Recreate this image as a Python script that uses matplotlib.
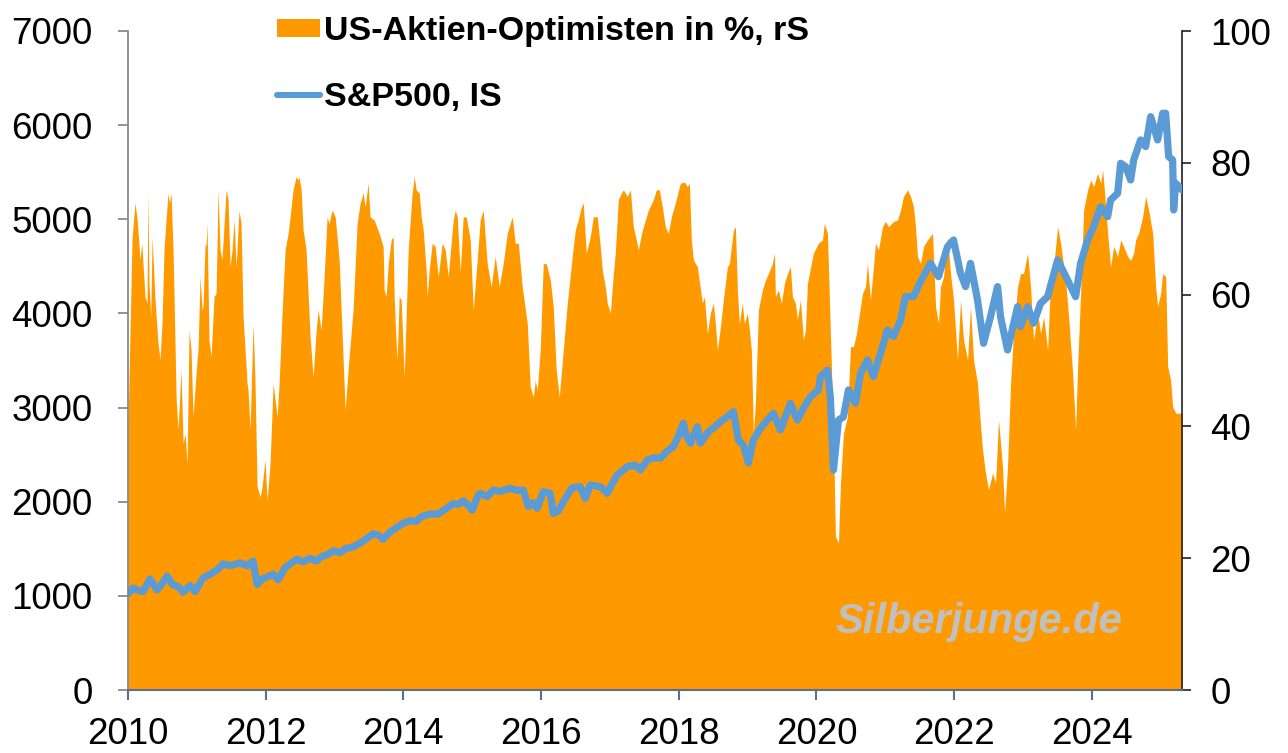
import matplotlib
matplotlib.use("Agg")
import matplotlib.pyplot as plt
from matplotlib.patches import Patch
from matplotlib.lines import Line2D

plt.rcParams['font.family'] = ['Liberation Sans', 'DejaVu Sans']

# US-Aktien-Optimisten in % (rechte Skala), Datum als Dezimaljahr
opt_years = [
    2010.00, 2010.058, 2010.10, 2010.13, 2010.174, 2010.20, 2010.247, 2010.276, 2010.29, 2010.305,
    2010.33, 2010.35, 2010.39, 2010.436, 2010.465, 2010.494, 2010.523, 2010.58, 2010.60, 2010.625,
    2010.654, 2010.67, 2010.70, 2010.727, 2010.77, 2010.80, 2010.83, 2010.858, 2010.887, 2010.916,
    2010.945, 2011.003, 2011.017, 2011.047, 2011.076, 2011.09, 2011.12, 2011.134, 2011.148, 2011.177,
    2011.206, 2011.25, 2011.28, 2011.308, 2011.337, 2011.366, 2011.424, 2011.453, 2011.483, 2011.512,
    2011.541, 2011.57, 2011.613, 2011.642, 2011.672, 2011.73, 2011.744, 2011.773, 2011.817, 2011.846,
    2011.875, 2011.919, 2011.948, 2011.99, 2012.02, 2012.064, 2012.108, 2012.166, 2012.195, 2012.238,
    2012.282, 2012.326, 2012.355, 2012.398, 2012.442, 2012.471, 2012.485, 2012.515, 2012.544, 2012.587,
    2012.645, 2012.689, 2012.733, 2012.762, 2012.805, 2012.849, 2012.892, 2012.92, 2012.965, 2013.01,
    2013.067, 2013.11, 2013.154, 2013.183, 2013.212, 2013.27, 2013.328, 2013.372, 2013.416, 2013.445,
    2013.488, 2013.517, 2013.576, 2013.648, 2013.706, 2013.72, 2013.75, 2013.78, 2013.823, 2013.852,
    2013.866, 2013.895, 2013.91, 2013.939, 2013.968, 2014.012, 2014.04, 2014.07, 2014.128, 2014.157,
    2014.186, 2014.23, 2014.259, 2014.288, 2014.331, 2014.346, 2014.375, 2014.419, 2014.462, 2014.506,
    2014.564, 2014.608, 2014.651, 2014.724, 2014.753, 2014.782, 2014.826, 2014.869, 2014.913, 2014.971,
    2015.015, 2015.073, 2015.116, 2015.16, 2015.218, 2015.276, 2015.334, 2015.392, 2015.45, 2015.509,
    2015.581, 2015.625, 2015.669, 2015.727, 2015.80, 2015.843, 2015.887, 2015.916, 2015.945, 2015.988,
    2016.032, 2016.076, 2016.134, 2016.177, 2016.22, 2016.265, 2016.323, 2016.381, 2016.453, 2016.497,
    2016.54, 2016.584, 2016.613, 2016.657, 2016.715, 2016.759, 2016.817, 2016.86, 2016.89, 2016.933,
    2016.962, 2017.006, 2017.05, 2017.078, 2017.122, 2017.166, 2017.195, 2017.253, 2017.297, 2017.34,
    2017.384, 2017.413, 2017.471, 2017.515, 2017.558, 2017.631, 2017.674, 2017.718, 2017.762, 2017.805,
    2017.849, 2017.892, 2017.95, 2018.023, 2018.081, 2018.125, 2018.154, 2018.183, 2018.212, 2018.27,
    2018.343, 2018.372, 2018.416, 2018.459, 2018.503, 2018.532, 2018.561, 2018.605, 2018.648, 2018.706,
    2018.735, 2018.794, 2018.823, 2018.852, 2018.88, 2018.924, 2018.953, 2018.997, 2019.026, 2019.055,
    2019.084, 2019.113, 2019.157, 2019.215, 2019.259, 2019.302, 2019.36, 2019.39, 2019.404, 2019.448,
    2019.491, 2019.535, 2019.578, 2019.622, 2019.651, 2019.695, 2019.724, 2019.767, 2019.811, 2019.84,
    2019.869, 2019.956, 2020.029, 2020.087, 2020.116, 2020.16, 2020.203, 2020.247, 2020.276, 2020.32,
    2020.349, 2020.392, 2020.45, 2020.494, 2020.538, 2020.581, 2020.61, 2020.669, 2020.712, 2020.741,
    2020.785, 2020.828, 2020.858, 2020.901, 2020.959, 2021.003, 2021.047, 2021.119, 2021.177, 2021.221,
    2021.264, 2021.323, 2021.366, 2021.41, 2021.439, 2021.468, 2021.512, 2021.555, 2021.613, 2021.686,
    2021.73, 2021.773, 2021.802, 2021.846, 2021.904, 2021.948, 2021.991, 2022.049, 2022.093, 2022.137,
    2022.195, 2022.238, 2022.282, 2022.34, 2022.384, 2022.413, 2022.456, 2022.50, 2022.558, 2022.602,
    2022.645, 2022.703, 2022.733, 2022.776, 2022.82, 2022.863, 2022.922, 2022.965, 2023.009, 2023.067,
    2023.11, 2023.154, 2023.212, 2023.256, 2023.30, 2023.358, 2023.401, 2023.445, 2023.503, 2023.547,
    2023.619, 2023.663, 2023.721, 2023.765, 2023.794, 2023.837, 2023.881, 2023.939, 2023.983, 2024.026,
    2024.084, 2024.128, 2024.157, 2024.186, 2024.23, 2024.273, 2024.317, 2024.375, 2024.419, 2024.462,
    2024.52, 2024.564, 2024.608, 2024.637, 2024.68, 2024.738, 2024.782, 2024.826, 2024.884, 2024.927,
    2024.956, 2025.00, 2025.029, 2025.073, 2025.102, 2025.145, 2025.174, 2025.218, 2025.31,
]
opt_pct = [
    40.0, 68.3, 73.9, 71.8, 65.3, 67.8, 59.7, 58.7, 75.4, 61.7,
    56.6, 68.8, 59.7, 52.6, 50.1, 55.6, 66.8, 75.4, 73.9, 75.4,
    66.8, 59.2, 44.0, 39.5, 48.6, 37.4, 38.9, 34.4, 54.6, 51.6,
    41.5, 50.1, 51.6, 62.7, 57.7, 58.2, 67.8, 67.3, 70.8, 53.1,
    50.6, 59.7, 60.2, 75.9, 66.8, 65.3, 75.9, 74.4, 64.2, 66.8,
    71.3, 64.2, 72.8, 70.8, 56.6, 46.5, 45.5, 39.5, 55.6, 46.5,
    30.9, 29.3, 30.9, 34.9, 28.8, 34.4, 46.5, 41.5, 46.5, 57.2,
    66.8, 69.3, 71.8, 75.9, 77.9, 77.4, 77.9, 75.9, 69.8, 66.8,
    53.6, 47.5, 54.6, 57.7, 54.6, 62.7, 71.8, 70.8, 72.8, 71.8,
    65.3, 54.1, 42.5, 46.5, 50.6, 57.7, 70.8, 73.9, 75.4, 73.3,
    76.9, 71.8, 71.3, 69.3, 67.3, 60.7, 59.7, 64.7, 68.3, 68.8,
    59.7, 52.6, 50.1, 59.7, 59.2, 47.5, 56.6, 66.8, 75.4, 77.9,
    75.9, 75.4, 71.8, 69.8, 63.7, 59.7, 63.7, 67.8, 67.3, 62.7,
    67.8, 66.8, 62.7, 71.3, 72.8, 71.8, 63.4, 71.8, 71.8, 68.3,
    57.7, 65.3, 71.3, 72.8, 64.7, 61.2, 65.8, 61.2, 64.7, 69.3,
    71.8, 67.8, 67.8, 61.2, 55.6, 46.0, 44.5, 47.0, 45.5, 51.6,
    64.7, 64.7, 62.2, 58.2, 48.6, 44.5, 51.6, 58.7, 65.8, 69.8,
    71.3, 73.3, 73.9, 66.3, 68.8, 71.8, 71.8, 67.3, 63.7, 61.2,
    58.7, 57.2, 63.2, 66.3, 74.4, 75.4, 75.9, 74.9, 75.9, 70.3,
    68.3, 66.8, 69.8, 71.3, 72.8, 74.4, 75.9, 75.9, 73.3, 70.3,
    69.3, 71.8, 73.9, 76.9, 77.1, 76.4, 76.9, 68.3, 65.3, 64.2,
    58.7, 59.7, 54.1, 57.2, 58.7, 55.6, 51.6, 55.1, 59.2, 64.2,
    64.7, 69.8, 70.3, 60.7, 55.6, 58.7, 55.6, 57.2, 54.6, 51.6,
    39.0, 43.5, 57.7, 60.7, 62.2, 63.2, 64.7, 66.3, 59.7, 60.7,
    58.7, 61.7, 63.2, 64.2, 59.7, 58.7, 56.2, 59.2, 53.1, 54.6,
    61.7, 66.3, 67.8, 68.3, 70.8, 69.3, 54.1, 38.9, 23.3, 22.3,
    31.4, 38.9, 41.5, 52.1, 52.1, 54.1, 56.1, 60.2, 61.2, 64.7,
    59.2, 64.2, 67.8, 66.8, 70.3, 71.1, 70.3, 71.1, 71.3, 72.8,
    74.9, 75.9, 74.9, 73.3, 70.3, 65.8, 64.7, 67.3, 68.3, 69.3,
    58.2, 55.6, 61.2, 62.7, 68.8, 63.2, 59.2, 50.1, 59.2, 53.1,
    50.1, 58.2, 50.1, 46.5, 40.0, 36.4, 32.9, 30.4, 32.9, 31.4,
    41.0, 33.9, 26.8, 33.9, 46.5, 54.1, 61.2, 63.2, 63.2, 66.3,
    61.2, 53.1, 57.2, 54.1, 56.6, 51.6, 62.2, 64.2, 70.3, 67.8,
    62.2, 56.6, 48.1, 39.5, 49.1, 60.2, 72.8, 75.9, 77.4, 76.4,
    78.4, 76.9, 78.9, 75.4, 69.3, 64.2, 67.3, 65.8, 68.3, 67.3,
    65.8, 65.2, 66.3, 68.3, 69.3, 71.8, 74.9, 72.8, 69.3, 61.2,
    58.2, 60.2, 63.2, 62.7, 49.1, 47.0, 43.0, 42.0, 42.0,
]

# S&P500 (linke Skala)
spx_years = [
    2010.00, 2010.073, 2010.145, 2010.218, 2010.32, 2010.422, 2010.494, 2010.567, 2010.654, 2010.727,
    2010.80, 2010.901, 2010.974, 2011.09, 2011.192, 2011.294, 2011.381, 2011.483, 2011.628, 2011.73,
    2011.817, 2011.875, 2011.948, 2012.02, 2012.108, 2012.18, 2012.282, 2012.355, 2012.456, 2012.544,
    2012.645, 2012.733, 2012.82, 2012.907, 2012.98, 2013.081, 2013.154, 2013.27, 2013.372, 2013.488,
    2013.561, 2013.648, 2013.706, 2013.808, 2013.91, 2013.997, 2014.099, 2014.186, 2014.259, 2014.39,
    2014.506, 2014.608, 2014.724, 2014.797, 2014.869, 2014.942, 2015.00, 2015.087, 2015.116, 2015.218,
    2015.305, 2015.407, 2015.552, 2015.654, 2015.741, 2015.814, 2015.887, 2015.945, 2016.032, 2016.134,
    2016.177, 2016.25, 2016.352, 2016.453, 2016.57, 2016.642, 2016.715, 2016.86, 2016.962, 2017.035,
    2017.108, 2017.253, 2017.369, 2017.442, 2017.544, 2017.66, 2017.733, 2017.834, 2017.922, 2017.994,
    2018.067, 2018.11, 2018.169, 2018.27, 2018.314, 2018.43, 2018.532, 2018.605, 2018.706, 2018.794,
    2018.866, 2018.939, 2019.012, 2019.084, 2019.186, 2019.288, 2019.375, 2019.477, 2019.549, 2019.622,
    2019.724, 2019.811, 2019.913, 2020.029, 2020.058, 2020.16, 2020.203, 2020.247, 2020.32, 2020.392,
    2020.465, 2020.567, 2020.64, 2020.741, 2020.828, 2020.93, 2021.032, 2021.119, 2021.221, 2021.294,
    2021.41, 2021.512, 2021.657, 2021.773, 2021.904, 2021.991, 2022.093, 2022.166, 2022.238, 2022.34,
    2022.427, 2022.529, 2022.631, 2022.674, 2022.776, 2022.922, 2022.965, 2023.067, 2023.154, 2023.256,
    2023.358, 2023.503, 2023.648, 2023.765, 2023.837, 2023.939, 2024.026, 2024.128, 2024.23, 2024.273,
    2024.375, 2024.419, 2024.491, 2024.564, 2024.608, 2024.709, 2024.782, 2024.855, 2024.956, 2025.029,
    2025.073, 2025.116, 2025.174, 2025.189, 2025.218, 2025.31,
]
spx_values = [
    1020, 1083, 1060, 1045, 1180, 1062, 1130, 1210, 1115, 1100,
    1040, 1110, 1045, 1190, 1230, 1275, 1340, 1320, 1350, 1320,
    1370, 1120, 1180, 1200, 1230, 1170, 1300, 1340, 1390, 1360,
    1400, 1370, 1420, 1440, 1480, 1460, 1500, 1520, 1560, 1620,
    1660, 1640, 1600, 1680, 1730, 1770, 1800, 1790, 1840, 1870,
    1870, 1920, 1980, 1970, 2010, 1960, 1910, 2070, 2090, 2054,
    2125, 2110, 2142, 2120, 2125, 1948, 1990, 1930, 2107, 2089,
    1877, 1900, 2036, 2150, 2160, 2036, 2178, 2160, 2089, 2195,
    2284, 2372, 2390, 2337, 2443, 2470, 2461, 2540, 2585, 2700,
    2833, 2700, 2620, 2797, 2620, 2744, 2800, 2850, 2903, 2957,
    2656, 2600, 2411, 2656, 2780, 2868, 2939, 2762, 2900, 3045,
    2868, 2992, 3116, 3187, 3328, 3399, 3100, 2337, 2868, 2900,
    3187, 3045, 3364, 3506, 3328, 3576, 3824, 3753, 3930, 4178,
    4178, 4338, 4532, 4391, 4709, 4780, 4426, 4285, 4532, 4143,
    3683, 3966, 4285, 3966, 3612, 4072, 3860, 4072, 3895, 4108,
    4178, 4568, 4355, 4178, 4532, 4780, 4922, 5134, 5028, 5205,
    5276, 5595, 5559, 5418, 5630, 5843, 5772, 6090, 5843, 6126,
    6126, 5665, 5630, 5099, 5383, 5311,
]

left_ticks = [0, 1000, 2000, 3000, 4000, 5000, 6000, 7000]
right_ticks = [0, 20, 40, 60, 80, 100]
year_ticks = [2010, 2012, 2014, 2016, 2018, 2020, 2022, 2024]

orange = '#FF9900'
blue = '#5B9BD5'

fig = plt.figure(figsize=(12.88, 7.53), dpi=100)
ax = fig.add_axes([128 / 1288, 63 / 753, 1054 / 1288, 659 / 753])
ax2 = ax.twinx()

# Optimisten als Flaeche auf der rechten Achse
ax2.fill_between(opt_years, 0, opt_pct, color=orange, linewidth=0)
ax2.set_ylim(0, 100)
ax2.set_yticks(right_ticks)

# S&P500 als Linie auf der linken Achse, vor der Flaeche
ax.plot(spx_years, spx_values, color=blue, lw=5.2, solid_joinstyle='round', solid_capstyle='round')
ax.set_ylim(0, 7000)
ax.set_yticks(left_ticks)
ax.set_xlim(2010, 2025.31)
ax.set_xticks(year_ticks)
ax.set_zorder(ax2.get_zorder() + 1)
ax.patch.set_visible(False)

ax.tick_params(axis='y', labelsize=26.5, length=7.5, width=1.2, color='#808080', pad=18)
ax.tick_params(axis='x', labelsize=26.5, length=7.5, width=1.5, color='#5A6F8E', pad=12)
ax2.tick_params(axis='y', labelsize=26.5, length=6.5, width=1.2, color='#202020', pad=14)

for a in (ax, ax2):
    a.spines['top'].set_visible(False)
ax.spines['left'].set_color('#808080')
ax.spines['left'].set_linewidth(1.2)
ax.spines['bottom'].set_color('#5A6F8E')
ax.spines['bottom'].set_linewidth(1.5)
ax.spines['right'].set_visible(False)
ax2.spines['left'].set_visible(False)
ax2.spines['bottom'].set_visible(False)
ax2.spines['right'].set_color('#202020')
ax2.spines['right'].set_linewidth(1.2)

handles = [Patch(facecolor=orange, edgecolor='none'),
           Line2D([0], [0], color=blue, lw=4.4, solid_capstyle='round')]
labels = ['US-Aktien-Optimisten in %, rS', 'S&P500, IS']
fig.legend(handles, labels, loc='upper left', bbox_to_anchor=(277 / 1288, 1 - 16 / 753),
           frameon=False, prop={'size': 24.5, 'weight': 'bold'}, handlelength=1.27,
           handleheight=0.46, handletextpad=0.1, labelspacing=1.03,
           borderpad=0, borderaxespad=0)

fig.text(979 / 1288, 1 - 633 / 753, 'Silberjunge.de', color='#C0C0C0', fontsize=30,
         fontweight='bold', fontstyle='italic', ha='center', va='baseline')

fig.savefig('out.png', dpi=100)
